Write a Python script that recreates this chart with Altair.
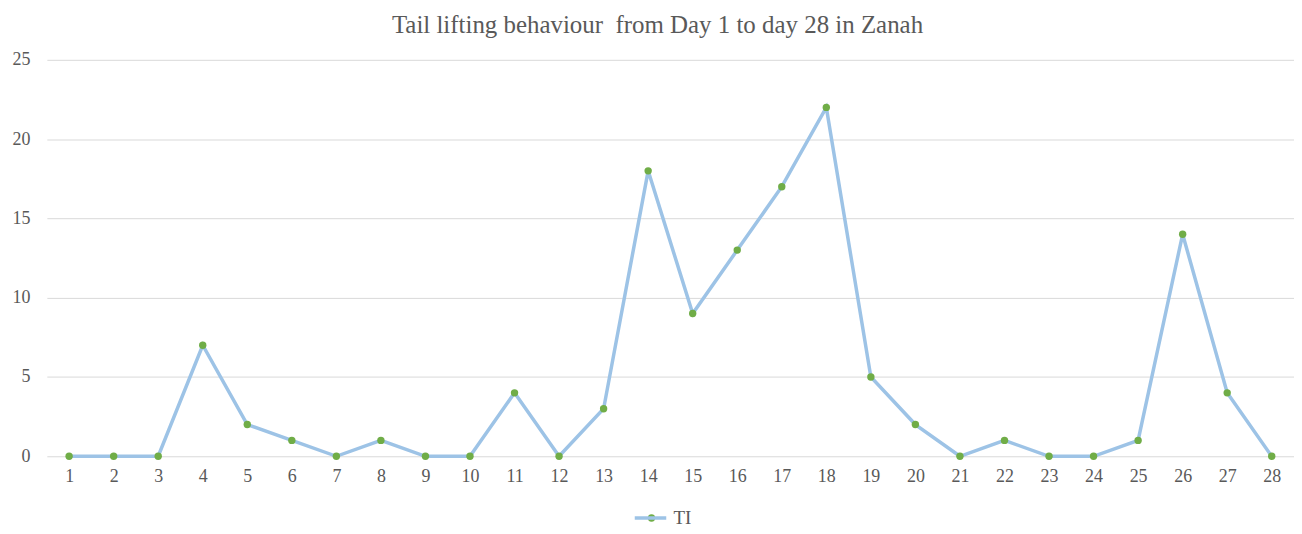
import altair as alt
import pandas as pd

days = list(range(1, 29))
ti_values = [0, 0, 0, 7, 2, 1, 0, 1, 0, 0, 4, 0, 3, 18, 9, 13, 17, 22, 5, 2, 0, 1, 0, 0, 1, 14, 4, 0]
series_name = "TI"
y_ticks = [0, 5, 10, 15, 20, 25]

df = pd.DataFrame({"day": [str(d) for d in days], "value": ti_values, "series": series_name})

FONT = "Liberation Serif"
GREY = "#595959"
LINE = "#9DC3E6"
DOT = "#70AD47"

x_enc = alt.X("day:O", sort=[str(d) for d in days], title=None,
              scale=alt.Scale(paddingInner=0, paddingOuter=0.5),
              axis=alt.Axis(labelAngle=0, ticks=False, domain=False, labelPadding=11,
                            labelFontSize=18, labelColor=GREY, labelFont=FONT, grid=False))
y_enc = alt.Y("value:Q", title=None, scale=alt.Scale(domain=[0, 25], nice=False),
              axis=alt.Axis(values=y_ticks, ticks=False, domain=False, labelPadding=17,
                            labelFontSize=18, labelColor=GREY, labelFont=FONT,
                            gridColor="#D9D9D9", gridWidth=1))

line = alt.Chart(df).mark_line(strokeWidth=3.5).encode(
    x=x_enc, y=y_enc,
    color=alt.Color("series:N", scale=alt.Scale(range=[LINE]),
                    legend=alt.Legend(title=None, orient="none", legendX=588, legendY=442,
                                      symbolType="stroke", symbolStrokeWidth=3.5, symbolSize=1000,
                                      labelFont=FONT, labelFontSize=19, labelColor=GREY,
                                      labelOffset=5, padding=0))
)
points = alt.Chart(df).mark_point(filled=True, size=55, opacity=1).encode(
    x=x_enc, y=y_enc,
    fill=alt.Fill("series:N", scale=alt.Scale(range=[DOT]),
                  legend=alt.Legend(title=None, orient="none", legendX=602, legendY=455,
                                    symbolType="circle", symbolSize=55, symbolStrokeWidth=0,
                                    symbolOpacity=1, labelOpacity=0, labelFontSize=10,
                                    padding=0))
)

chart = alt.layer(line, points).properties(
    width=1252, height=398,
    autosize=alt.AutoSizeParams(type="none"),
    padding={"left": 39, "top": 51, "right": 0, "bottom": 74},
    title=alt.TitleParams("Tail lifting behaviour\u00a0 from Day 1 to day 28 in Zanah",
                          font=FONT, fontSize=25, fontWeight="normal", color=GREY,
                          anchor="middle", dx=-13, offset=13),
).configure_view(stroke=None).resolve_scale(color="independent")

chart.save("out.html", embed_options={"renderer": "svg", "actions": False})
